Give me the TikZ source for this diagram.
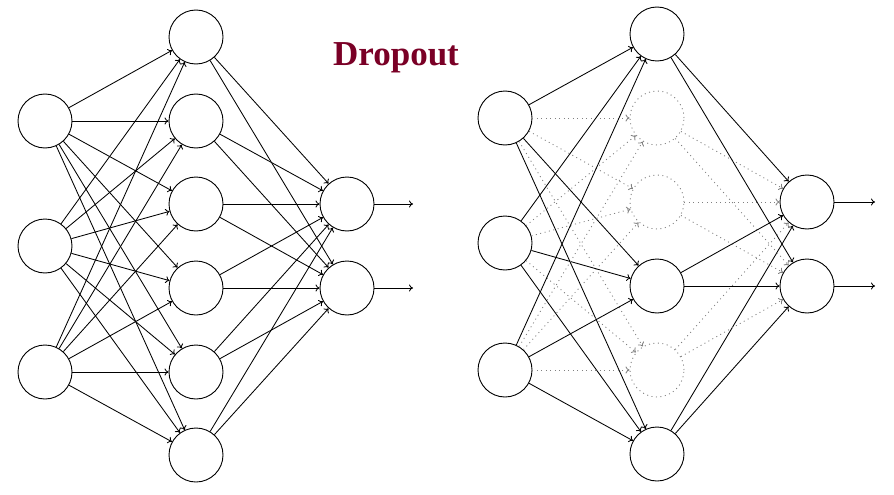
\documentclass[tikz,border=0pt]{standalone}
\usepackage{fontspec}
\setmainfont{Liberation Serif}
\usetikzlibrary{arrows.meta}
\definecolor{titlered}{RGB}{122,0,38}
\begin{document}
\begin{tikzpicture}[x=1pt,y=-1pt,
  neuron/.style={circle,draw,line width=0.9pt,minimum size=54pt,inner sep=0pt},
  dropneuron/.style={circle,draw=gray,line width=0.9pt,dash pattern=on 1pt off 3.5pt,minimum size=54pt,inner sep=0pt},
  conn/.style={line width=0.85pt,-{To[length=4pt,width=7pt]}},
  dconn/.style={line width=0.85pt,draw=gray,dash pattern=on 1pt off 3.5pt,-{To[length=4pt,width=7pt]}}]
\useasboundingbox (0,0) rectangle (894,495);
\node[font=\bfseries\fontsize{35}{40}\selectfont,text=titlered] (title) at (396,58) {Dropout};
% left network
\foreach \i/\y in {1/121,2/246,3/372} \node[neuron] (LI\i) at (45,\y) {};
\foreach \i/\y in {1/37,2/121,3/204,4/288,5/372,6/455} \node[neuron] (LH\i) at (196,\y) {};
\foreach \i/\y in {1/204,2/288} \node[neuron] (LO\i) at (347,\y) {};
\coordinate (LE1) at (413,204);
\coordinate (LE2) at (413,288);
\foreach \i in {1,2,3} \foreach \j in {1,...,6} \draw[conn] (LI\i) -- (LH\j);
\foreach \j in {1,...,6} \foreach \k in {1,2} \draw[conn] (LH\j) -- (LO\k);
\foreach \k in {1,2} \draw[conn] (LO\k) -- (LE\k);
% right network
\foreach \i/\y in {1/118,2/243,3/370} \node[neuron] (RI\i) at (505,\y) {};
\node[neuron] (RH1) at (657,34) {};
\node[dropneuron] (RH2) at (657,118) {};
\node[dropneuron] (RH3) at (657,202) {};
\node[neuron] (RH4) at (657,286) {};
\node[dropneuron] (RH5) at (657,370) {};
\node[neuron] (RH6) at (657,454) {};
\foreach \i/\y in {1/202,2/286} \node[neuron] (RO\i) at (807,\y) {};
\coordinate (RE1) at (875,202);
\coordinate (RE2) at (875,286);
\foreach \i in {1,2,3} {
  \foreach \j in {1,4,6} \draw[conn] (RI\i) -- (RH\j);
  \foreach \j in {2,3,5} \draw[dconn] (RI\i) -- (RH\j);
}
\foreach \k in {1,2} {
  \foreach \j in {1,4,6} \draw[conn] (RH\j) -- (RO\k);
  \foreach \j in {2,3,5} \draw[dconn] (RH\j) -- (RO\k);
  \draw[conn] (RO\k) -- (RE\k);
}
\end{tikzpicture}
\end{document}
